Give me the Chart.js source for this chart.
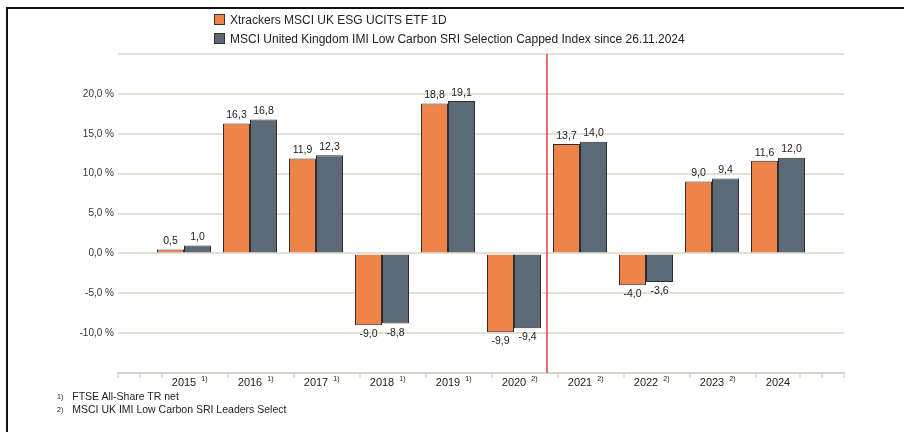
<!DOCTYPE html>
<html>
<head>
<meta charset="utf-8">
<script src="https://cdn.jsdelivr.net/npm/chart.js@4/dist/chart.umd.min.js"></script>
<style>
  html, body { margin: 0; padding: 0; background: #fff; }
  body { font-family: "Liberation Sans", Arial, sans-serif; color: #222; }
  #wrap { position: relative; width: 904px; height: 432px; overflow: hidden; }
  #frame { position: absolute; left: 6px; top: 7px; width: 920px; height: 440px;
           border-top: 2px solid #111; border-left: 2px solid #111; }
  #chart { position: absolute; left: 0; top: 0; }
  .legend { position: absolute; left: 214px; top: 11px; font-size: 12px; line-height: 19px; }
  .legend div { white-space: nowrap; }
  .legend span.box { display: inline-block; width: 9px; height: 9px; border: 1px solid #333;
                     margin-right: 5px; vertical-align: -1px; }
  .notes { position: absolute; left: 57px; top: 390px; font-size: 10.5px; line-height: 13px; }
  .notes sup { font-size: 7px; vertical-align: 1px; margin-right: 9px; }
</style>
</head>
<body>
<div id="wrap">
  <div id="frame"></div>
  <canvas id="chart" width="904" height="432"></canvas>
  <div class="legend">
    <div><span class="box" style="background:#ee844a"></span>Xtrackers MSCI UK ESG UCITS ETF 1D</div>
    <div><span class="box" style="background:#5b6a76"></span>MSCI United Kingdom IMI Low Carbon SRI Selection Capped Index since 26.11.2024</div>
  </div>
  <div class="notes">
    <div><sup>1)</sup>FTSE All-Share TR net</div>
    <div><sup>2)</sup>MSCI UK IMI Low Carbon SRI Leaders Select</div>
  </div>
</div>
<script>
'use strict';

const years = ['2015', '2016', '2017', '2018', '2019', '2020', '2021', '2022', '2023', '2024'];
const notes = ['1)', '1)', '1)', '1)', '1)', '2)', '2)', '2)', '2)', ''];
const etfReturns   = [0.5, 16.3, 11.9, -9.0, 18.8, -9.9, 13.7, -4.0, 9.0, 11.6];
const indexReturns = [1.0, 16.8, 12.3, -8.8, 19.1, -9.4, 14.0, -3.6, 9.4, 12.0];
const yTicks = [-15, -10, -5, 0, 5, 10, 15, 20, 25];

// leer Platz links und rechts wie im Original
const labels = ['', ...years, ''];
const pad = arr => [null, ...arr, null];

const AXIS_COLOR = '#d8d4ca';
const fmt = v => v.toFixed(1).replace('.', ',');

const decoPlugin = {
  id: 'deco',
  afterDatasetsDraw(chart) {
    const ctx = chart.ctx;
    const x = chart.scales.x;
    const area = chart.chartArea;

    // rote Linie zwischen 2020 und 2021
    const xr = (x.getPixelForValue(6) + x.getPixelForValue(7)) / 2;
    ctx.save();
    ctx.strokeStyle = 'rgb(232, 30, 40)';
    ctx.lineWidth = 1.3;
    ctx.beginPath();
    ctx.moveTo(Math.round(xr), area.top);
    ctx.lineTo(Math.round(xr), area.bottom);
    ctx.stroke();

    // Werte an den Balken
    ctx.font = '10.5px "Liberation Sans", Arial, sans-serif';
    ctx.fillStyle = '#222';
    ctx.textAlign = 'center';
    chart.data.datasets.forEach((ds, di) => {
      const meta = chart.getDatasetMeta(di);
      meta.data.forEach((el, i) => {
        const v = ds.data[i];
        if (v === null) return;
        if (v >= 0) {
          ctx.textBaseline = 'bottom';
          ctx.fillText(fmt(v), el.x, el.y - 3);
        } else {
          ctx.textBaseline = 'top';
          ctx.fillText(fmt(v), el.x, el.y + 4);
        }
      });
    });
    ctx.restore();
  },
  afterDraw(chart) {
    const ctx = chart.ctx;
    const x = chart.scales.x;
    const yb = chart.chartArea.bottom;
    ctx.save();
    // kleine Striche an der Achse
    const marks = [0, 1 / 3, 2 / 3];
    for (let k = 1; k <= 9; k++) marks.push(k + 2 / 3);
    marks.push(10 + 1 / 3, 10 + 2 / 3, 11);
    ctx.strokeStyle = AXIS_COLOR;
    ctx.lineWidth = 1.5;
    marks.forEach(m => {
      const px = Math.round(x.getPixelForValue(m));
      ctx.beginPath();
      ctx.moveTo(px, yb);
      ctx.lineTo(px, yb + 5);
      ctx.stroke();
    });
    // Fussnoten-Hinweise an den Jahren
    ctx.fillStyle = '#222';
    ctx.textBaseline = 'top';
    ctx.textAlign = 'left';
    years.forEach((yr, i) => {
      if (!notes[i]) return;
      ctx.font = '11px "Liberation Sans", Arial, sans-serif';
      const w = ctx.measureText(yr).width;
      const px = x.getPixelForValue(i + 1);
      ctx.font = '7px "Liberation Sans", Arial, sans-serif';
      ctx.fillText(notes[i], px + w / 2 + 5, yb + 3);
    });
    ctx.restore();
  }
};

new Chart(document.getElementById('chart'), {
  type: 'bar',
  data: {
    labels,
    datasets: [
      { label: 'Xtrackers MSCI UK ESG UCITS ETF 1D', data: pad(etfReturns),
        backgroundColor: '#ee844a', borderColor: '#2e2e2e', borderWidth: 1 },
      { label: 'MSCI United Kingdom IMI Low Carbon SRI Selection Capped Index since 26.11.2024', data: pad(indexReturns),
        backgroundColor: '#5b6a76', borderColor: '#2e2e2e', borderWidth: 1 }
    ]
  },
  options: {
    responsive: false,
    animation: false,
    layout: { padding: { top: 54, right: 60, bottom: 29, left: 0 } },
    categoryPercentage: 54 / 66,
    barPercentage: 1,
    plugins: { legend: { display: false }, tooltip: { enabled: false } },
    scales: {
      x: {
        type: 'category',
        offset: false,
        grid: { display: false, drawTicks: false },
        border: { color: AXIS_COLOR, width: 2 },
        ticks: { autoSkip: false, maxRotation: 0, padding: 3, color: '#222',
                 font: { size: 11, family: '"Liberation Sans", Arial, sans-serif' } },
        afterFit: s => { s.height = 30; }
      },
      y: {
        min: -15, max: 25,
        afterBuildTicks: s => { s.ticks = yTicks.map(v => ({ value: v })); },
        grid: { color: '#e3e0d8', lineWidth: 2, drawTicks: false },
        border: { display: false },
        ticks: {
          padding: 4, color: '#333',
          font: { size: 10, family: '"Liberation Sans", Arial, sans-serif' },
          callback: v => (v === 25 || v === -15) ? '' : fmt(v) + ' %'
        },
        afterFit: s => { s.width = 118; }
      }
    }
  },
  plugins: [decoPlugin]
});
</script>
</body>
</html>
